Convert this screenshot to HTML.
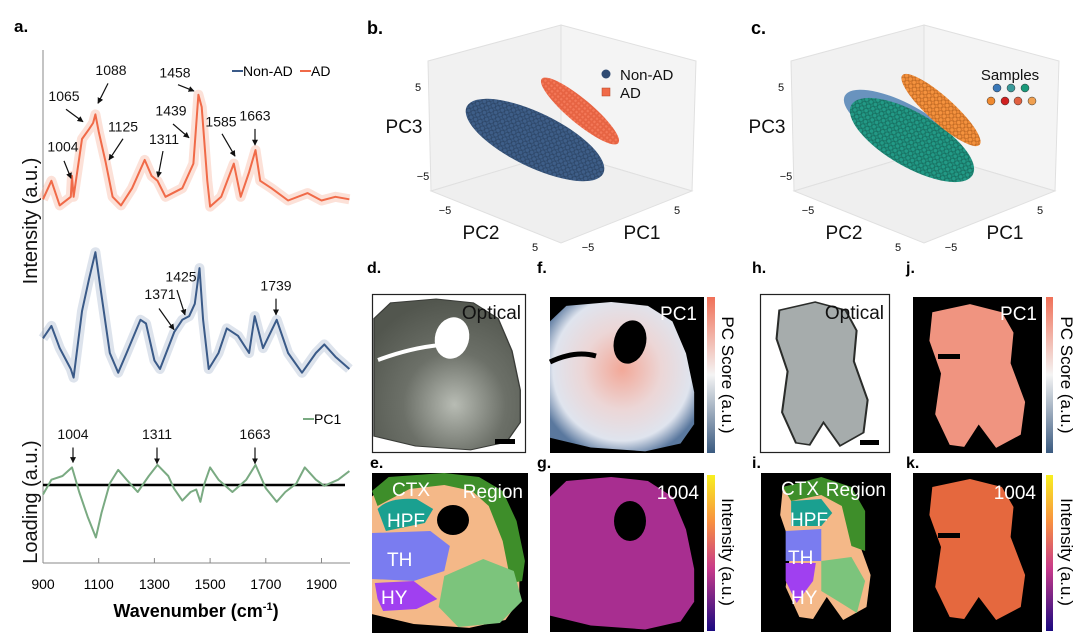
<!DOCTYPE html>
<html><head><meta charset="utf-8"><style>
html,body{margin:0;padding:0;background:#fff;}
svg{display:block;font-family:"Liberation Sans",sans-serif;}
.n{font-family:"Liberation Sans Narrow","Liberation Sans",sans-serif;}
</style></head><body>
<svg id="fig" width="1080" height="642" viewBox="0 0 1080 642" xmlns="http://www.w3.org/2000/svg">
<defs>
<marker id="ah" viewBox="0 0 10 10" refX="9" refY="5" markerWidth="5" markerHeight="5" orient="auto"><path d="M0,0L10,5L0,10z" fill="#111"/></marker>
<pattern id="pBlue" width="5" height="5" patternUnits="userSpaceOnUse"><rect width="5" height="5" fill="#3b5b84"/><circle cx="2.5" cy="2.5" r="2.2" fill="#3e5e88" stroke="#2a4262" stroke-width="0.6"/></pattern>
<pattern id="pOr" width="4" height="4" patternUnits="userSpaceOnUse"><rect width="4" height="4" fill="#f06a48"/><rect x="0.5" y="0.5" width="3" height="3" fill="#f47858" stroke="#d85535" stroke-width="0.4"/></pattern>
<pattern id="pTeal" width="5" height="5" patternUnits="userSpaceOnUse"><rect width="5" height="5" fill="#1e8f7c"/><circle cx="2.5" cy="2.5" r="2.2" fill="#229a86" stroke="#16685a" stroke-width="0.6"/></pattern>
<pattern id="pOr2" width="5" height="5" patternUnits="userSpaceOnUse"><rect width="5" height="5" fill="#f08a38"/><circle cx="2.5" cy="2.5" r="2.2" fill="#f4923e" stroke="#b86420" stroke-width="0.6"/></pattern>
<linearGradient id="cbPC" x1="0" y1="0" x2="0" y2="1"><stop offset="0" stop-color="#f07058"/><stop offset="0.5" stop-color="#f4f4f4"/><stop offset="1" stop-color="#3a5a80"/></linearGradient>
<linearGradient id="cbInt" x1="0" y1="0" x2="0" y2="1"><stop offset="0" stop-color="#f8f020"/><stop offset="0.3" stop-color="#f89040"/><stop offset="0.6" stop-color="#c83a8a"/><stop offset="1" stop-color="#1a0a80"/></linearGradient>
<radialGradient id="fGrad" cx="0.5" cy="0.45" r="0.6"><stop offset="0" stop-color="#f2a898"/><stop offset="0.45" stop-color="#ecd6d6"/><stop offset="0.8" stop-color="#dfe4ee"/><stop offset="1" stop-color="#5a789e"/></radialGradient>
<radialGradient id="optGrad" cx="0.55" cy="0.7" r="0.7"><stop offset="0" stop-color="#b8bcb4"/><stop offset="0.5" stop-color="#6c7068"/><stop offset="1" stop-color="#52564e"/></radialGradient>
<path id="brainL" d="M0,22 L12,6 L45,2 L72,6 L90,22 L100,55 L106,95 L106,128 L96,148 L70,156 L30,152 L0,142 Z"/>
<path id="brainR" d="M14,12 L40,4 L62,12 L70,32 L68,62 L78,100 L75,132 L58,145 L46,122 L36,144 L26,142 L16,112 L20,72 L12,40 Z"/>
</defs>

<!-- ============ Panel a ============ -->
<g>
<text x="14" y="32" font-size="17" font-weight="bold">a.</text>
<line x1="43" y1="50" x2="43" y2="563" stroke="#888" stroke-width="1"/>
<line x1="43" y1="563" x2="350" y2="563" stroke="#888" stroke-width="1"/>
<text transform="translate(37,221) rotate(-90)" text-anchor="middle" font-size="20" fill="#111">Intensity (a.u.)</text>
<text transform="translate(37,502) rotate(-90)" text-anchor="middle" font-size="20" fill="#111">Loading (a.u.)</text>
<g id="xticks"></g>
<text x="196" y="617" text-anchor="middle" font-size="18" font-weight="bold">Wavenumber (cm<tspan dy="-7" font-size="11">-1</tspan><tspan dy="7">)</tspan></text>
<line x1="43" y1="485" x2="345" y2="485" stroke="#000" stroke-width="2.4"/>
<g id="spectra"></g>
<g>
<line x1="232" y1="71" x2="243" y2="71" stroke="#3a5a88" stroke-width="2"/>
<text x="243" y="76" font-size="14">Non-AD</text>
<line x1="300" y1="71" x2="311" y2="71" stroke="#f06a48" stroke-width="2"/>
<text x="311" y="76" font-size="14">AD</text>
<line x1="303" y1="419" x2="314" y2="419" stroke="#7aaa82" stroke-width="2"/>
<text x="314" y="424" font-size="14">PC1</text>
</g>
<g id="annots" font-size="14" fill="#111"></g>
</g>

<!-- ============ Panels b & c ============ -->
<g id="pcaB"></g>
<g id="pcaC"></g>

<!-- ============ Image panels ============ -->
<g font-size="16">
<text x="367" y="273" font-weight="bold">d.</text>
<text x="537" y="273" font-weight="bold">f.</text>
<text x="752" y="273" font-weight="bold">h.</text>
<text x="906" y="273" font-weight="bold">j.</text>
<text x="370" y="468" font-weight="bold">e.</text>
<text x="537" y="468" font-weight="bold">g.</text>
<text x="752" y="468" font-weight="bold">i.</text>
<text x="906" y="468" font-weight="bold">k.</text>

<!-- d optical -->
<g>
<rect x="372.5" y="294.5" width="153" height="158" fill="#fff" stroke="#222" stroke-width="1.2"/>
<use href="#brainL" transform="translate(374,297) scale(1.38,0.98)" fill="url(#optGrad)" stroke="#3a3c38" stroke-width="1"/>
<ellipse cx="452" cy="338" rx="17" ry="21" fill="#fff" transform="rotate(15 452 338)"/>
<path d="M378,360 Q410,348 440,345" stroke="#fff" stroke-width="4" fill="none"/>
<text x="521" y="319" text-anchor="end" class="n" font-size="19" fill="#111">Optical</text>
<rect x="495" y="439" width="20" height="5" fill="#000"/>
</g>
<!-- f PC1 -->
<g>
<rect x="550" y="297" width="154" height="156" fill="#000"/>
<use href="#brainL" transform="translate(550,300) scale(1.36,0.97)" fill="url(#fGrad)"/>
<ellipse cx="630" cy="342" rx="16" ry="22" fill="#000" transform="rotate(15 630 342)"/>
<path d="M550,362 Q575,350 596,356" stroke="#000" stroke-width="5" fill="none"/>
<text x="697" y="320" text-anchor="end" class="n" font-size="19" fill="#fff">PC1</text>
<rect x="707" y="297" width="8" height="156" fill="url(#cbPC)"/>
<text transform="translate(722,375) rotate(90)" text-anchor="middle" font-size="17">PC Score (a.u.)</text>
</g>
<!-- h optical -->
<g>
<rect x="760.5" y="294.5" width="129" height="158" fill="#fff" stroke="#222" stroke-width="1.2"/>
<use href="#brainR" transform="translate(760,298) scale(1.38,1.02)" fill="#a6acac" stroke="#2a2c2a" stroke-width="1.5"/>
<text x="884" y="319" text-anchor="end" class="n" font-size="19" fill="#111">Optical</text>
<rect x="860" y="440" width="19" height="5" fill="#000"/>
</g>
<!-- j PC1 -->
<g>
<rect x="913" y="297" width="129" height="156" fill="#000"/>
<use href="#brainR" transform="translate(912,300) scale(1.45,1.02)" fill="#f09480"/>
<rect x="938" y="354" width="22" height="5" fill="#000"/>
<text x="1037" y="320" text-anchor="end" class="n" font-size="19" fill="#fff">PC1</text>
<rect x="1046" y="297" width="7" height="156" fill="url(#cbPC)"/>
<text transform="translate(1061,375) rotate(90)" text-anchor="middle" font-size="17">PC Score (a.u.)</text>
</g>
<!-- e region -->
<g>
<rect x="372" y="473" width="156" height="160" fill="#000"/>
<g transform="translate(372,473) scale(1.39,1) translate(-368,-472)">
<use href="#brainL" transform="translate(368,474) scale(1.0,0.98)" fill="#f4b888"/>
<path d="M368,490 L380,476 L420,472 L445,476 L462,490 L472,520 L478,560 L476,580 L468,582 L462,540 L452,505 L440,490 L420,484 L395,488 L372,505 Z" fill="#3e8e2a"/>
<path d="M372,508 Q380,496 400,498 L412,508 L406,522 L378,530 Z" fill="#1aa090"/>
<path d="M368,532 L410,530 L424,545 L420,570 L398,580 L368,578 Z" fill="#7a7cf0"/>
<path d="M370,582 L398,580 L415,598 L400,608 L376,610 L372,598 Z" fill="#a040f0"/>
<path d="M420,575 L448,558 L470,570 L476,600 L460,622 L430,626 L416,606 Z" fill="#7cc47c"/>
</g>
<ellipse cx="453" cy="520" rx="16" ry="15" fill="#000"/>
<g class="n" font-size="19" fill="#fff">
<text x="392" y="496">CTX</text>
<text x="523" y="498" text-anchor="end">Region</text>
<text x="387" y="527">HPF</text>
<text x="387" y="566">TH</text>
<text x="381" y="604">HY</text>
</g>
</g>
<!-- g 1004 -->
<g>
<rect x="550" y="473" width="154" height="159" fill="#000"/>
<use href="#brainL" transform="translate(550,475) scale(1.36,0.99)" fill="#a82e90"/>
<ellipse cx="630" cy="521" rx="16" ry="20" fill="#000"/>
<text x="699" y="499" text-anchor="end" class="n" font-size="19" fill="#fff">1004</text>
<rect x="707" y="475" width="8" height="156" fill="url(#cbInt)"/>
<text transform="translate(722,552) rotate(90)" text-anchor="middle" font-size="17">Intensity (a.u.)</text>
</g>
<!-- i region -->
<g>
<rect x="761" y="473" width="130" height="159" fill="#000"/>
<g transform="translate(761,473) scale(1.37,1) translate(-646,-472)">
<use href="#brainR" transform="translate(648,474) scale(1.0,1.0)" fill="#f4b888"/>
<path d="M662,486 L690,476 L712,486 L722,510 L722,550 L712,545 L705,505 L690,494 L668,500 Z" fill="#3e8e2a"/>
<path d="M668,500 L690,498 L698,512 L690,525 L668,525 Z" fill="#1aa090"/>
<path d="M664,530 L690,528 L690,560 L664,560 Z" fill="#7a7cf0"/>
<path d="M664,562 L686,562 L684,580 L672,602 L664,580 Z" fill="#a040f0"/>
<path d="M690,560 L712,556 L722,580 L716,612 L702,600 L690,590 Z" fill="#7cc47c"/>
</g>
<g class="n" font-size="19" fill="#fff">
<text x="781" y="495">CTX</text>
<text x="886" y="496" text-anchor="end">Region</text>
<text x="790" y="526">HPF</text>
<text x="788" y="564">TH</text>
<text x="791" y="604">HY</text>
</g>
</g>
<!-- k 1004 -->
<g>
<rect x="913" y="473" width="129" height="159" fill="#000"/>
<use href="#brainR" transform="translate(912,475) scale(1.45,1.0)" fill="#e5683e"/>
<rect x="938" y="533" width="22" height="5" fill="#000"/>
<text x="1036" y="499" text-anchor="end" class="n" font-size="19" fill="#fff">1004</text>
<rect x="1046" y="475" width="7" height="156" fill="url(#cbInt)"/>
<text transform="translate(1061,552) rotate(90)" text-anchor="middle" font-size="17">Intensity (a.u.)</text>
</g>
</g>
</svg>
<script>
// ---- Panel a data ----
const wnTicks = [900, 1100, 1300, 1500, 1700, 1900];
const adWn = [900,930,960,1000,1004,1010,1040,1065,1080,1088,1100,1125,1150,1180,1220,1265,1290,1311,1340,1400,1440,1458,1470,1490,1500,1540,1585,1610,1640,1663,1680,1720,1780,1850,1900,1950,2000];
const adInt = [8,23,3,10,27,10,57,65,70,77,63,38,10,3,17,40,27,23,10,17,37,93,83,23,2,10,37,10,30,48,23,17,7,13,7,10,8];
const nonWn = [900,930,960,1000,1010,1040,1065,1088,1110,1140,1170,1200,1250,1270,1300,1320,1371,1400,1425,1445,1462,1475,1495,1530,1560,1600,1640,1660,1690,1739,1780,1830,1880,1910,1950,2000];
const nonInt = [45,55,37,20,13,67,93,115,80,33,17,33,60,57,27,20,50,60,63,73,102,60,20,33,53,47,33,63,37,60,33,17,33,40,30,20];
const pcWn = [900,930,970,1004,1030,1060,1090,1110,1140,1170,1200,1240,1280,1311,1350,1370,1400,1430,1450,1465,1480,1500,1530,1580,1630,1663,1700,1739,1770,1810,1840,1880,1910,1960,2000];
const pcLoad = [-8,4,7,14,-6,-26,-43,-23,1,12,4,-6,7,16,7,-3,-13,-6,-4,-14,1,14,4,-6,4,16,-3,-14,-6,1,14,4,-1,4,11];
const annAD = [[1004,"1004",63,123,64,130,71,145],[1065,"1065",64,82,66,88,83,99],[1088,"1088",111,61,108,67,98,84],[1125,"1125",123,107,123,112,109,130],[1311,"1311",164,117,163,122,158,144],[1439,"1439",171,94,173,100,189,112],[1458,"1458",175,63,178,68,194,74],[1585,"1585",221,103,222,108,235,127],[1663,"1663",255,98,255,104,255,118],[1371,"1371",160,243,159,250,174,268],[1425,"1425",181,229,177,235,185,256],[1739,"1739",276,236,276,242,276,256],[1004,"1004",73,357,73,363,73,376],[1311,"1311",157,357,157,363,157,377],[1663,"1663",255,357,255,363,255,377]];

const SY = 1.23;
const xS = w => 43 + (w - 900) * 0.2785;
const yAD = v => (170 - v) * SY;
const yNon = v => (320 - v) * SY;
const yPC = v => (394 - v) * SY;
const NS = "http://www.w3.org/2000/svg";
function mk(tag, attrs, parent){const e=document.createElementNS(NS,tag);for(const k in attrs)e.setAttribute(k,attrs[k]);parent.appendChild(e);return e;}

const xt = document.getElementById('xticks');
wnTicks.forEach(t=>{
  const e = mk('text',{x:xS(t),y:589,'text-anchor':'middle','font-size':14},xt);
  
  
  e.textContent = t;
  const tk = mk('line',{x1:xS(t),y1:558,x2:xS(t),y2:563,stroke:'#888'},xt);
  
  
});
function pathD(ws, vs, ys){return ws.map((w,i)=>(i?'L':'M')+xS(w).toFixed(1)+','+ys(vs[i]).toFixed(1)).join(' ');}
const sp = document.getElementById('spectra');
const bandAD = mk('path',{d:pathD(adWn,adInt,yAD),fill:'none',stroke:'#f6a890','stroke-width':10,'stroke-opacity':0.35,'stroke-linejoin':'round'},sp);


const lineAD = mk('path',{d:pathD(adWn,adInt,yAD),fill:'none',stroke:'#f06a48','stroke-width':2,'stroke-linejoin':'round'},sp);


const bandNon = mk('path',{d:pathD(nonWn,nonInt,yNon),fill:'none',stroke:'#9fb0c8','stroke-width':10,'stroke-opacity':0.35,'stroke-linejoin':'round'},sp);


const lineNon = mk('path',{d:pathD(nonWn,nonInt,yNon),fill:'none',stroke:'#3a5a88','stroke-width':2,'stroke-linejoin':'round'},sp);


const linePC = mk('path',{d:pathD(pcWn,pcLoad,yPC),fill:'none',stroke:'#7aaa82','stroke-width':2,'stroke-linejoin':'round'},sp);



const an = document.getElementById('annots');
annAD.forEach(a=>{
  const t = mk('text',{x:a[2],y:a[3]*SY,'text-anchor':'middle'},an);
  
  
  t.textContent = a[1];
  const l = mk('line',{x1:a[4],y1:a[5]*SY+1,x2:a[6],y2:a[7]*SY,stroke:'#111','stroke-width':1.2,'marker-end':'url(#ah)'},an);
  
  
});

// ---- Panels b, c ----
function pca(g, o, mode, labelX){
  const G = document.getElementById(g);
  const P = (x,y)=>(x+o)+','+y;
  mk('polygon',{points:[P(428,61),P(561,25),P(561,152),P(431,191)].join(' '),fill:'#f1f1f1',stroke:'#e0e0e0'},G);
  mk('polygon',{points:[P(561,25),P(696,61),P(692,191),P(561,152)].join(' '),fill:'#f4f4f4',stroke:'#e0e0e0'},G);
  mk('polygon',{points:[P(431,191),P(561,152),P(692,191),P(561,243)].join(' '),fill:'#efefef',stroke:'#e0e0e0'},G);
  const lab = (x,y,s,fs,anc)=>{const e=mk('text',{x:x+o,y:y,'font-size':fs,'text-anchor':anc||'middle',class:'n',fill:'#111'},G);e.textContent=s;return e;};
  lab(404,133,'PC3',19); lab(418,91,'5',11); lab(423,180,'−5',11);
  lab(445,214,'−5',11); lab(481,239,'PC2',19); lab(535,251,'5',11);
  lab(588,251,'−5',11); lab(642,239,'PC1',19); lab(677,214,'5',11);
  if(mode==='b'){
    mk('ellipse',{cx:535+o,cy:140,rx:76,ry:27,transform:`rotate(26 ${535+o} 140)`,fill:'url(#pBlue)'},G);
    mk('ellipse',{cx:580+o,cy:111,rx:50,ry:12,transform:`rotate(40 ${580+o} 111)`,fill:'url(#pOr)'},G);
    mk('circle',{cx:606+o,cy:74,r:4.5,fill:'#2f4a72'},G);
    lab(620,80,'Non-AD',15,'start');
    mk('rect',{x:602+o,y:88,width:8,height:8,fill:'#f06a48',stroke:'#b04020','stroke-width':0.5},G);
    lab(620,98,'AD',15,'start');
  } else {
    mk('ellipse',{cx:537+o,cy:124,rx:62,ry:22,transform:`rotate(27 ${537+o} 124)`,fill:'#5a88b8','fill-opacity':0.9},G);
    mk('ellipse',{cx:549+o,cy:140,rx:70,ry:27,transform:`rotate(30 ${549+o} 140)`,fill:'url(#pTeal)'},G);
    mk('ellipse',{cx:578+o,cy:110,rx:52,ry:13,transform:`rotate(42 ${578+o} 110)`,fill:'url(#pOr2)'},G);
    lab(647,80,'Samples',15);
    [['#3a78b8',997],['#3a9a9a',1011],['#1a9a7a',1025]].forEach(c=>mk('circle',{cx:c[1],cy:88,r:4,fill:c[0],stroke:'#333','stroke-width':0.5},G));
    [['#f08a30',991],['#d02020',1005],['#e06040',1018],['#f0a050',1032]].forEach(c=>mk('circle',{cx:c[1],cy:101,r:4,fill:c[0],stroke:'#333','stroke-width':0.5},G));
  }
  const tl = mk('text',{x:labelX,y:34,'font-size':18,'font-weight':'bold',class:'n'},G);
  
  
  tl.textContent = mode+'.';
}
pca('pcaB',0,'b',367);
pca('pcaC',363,'c',751);
</script>
</body></html>
